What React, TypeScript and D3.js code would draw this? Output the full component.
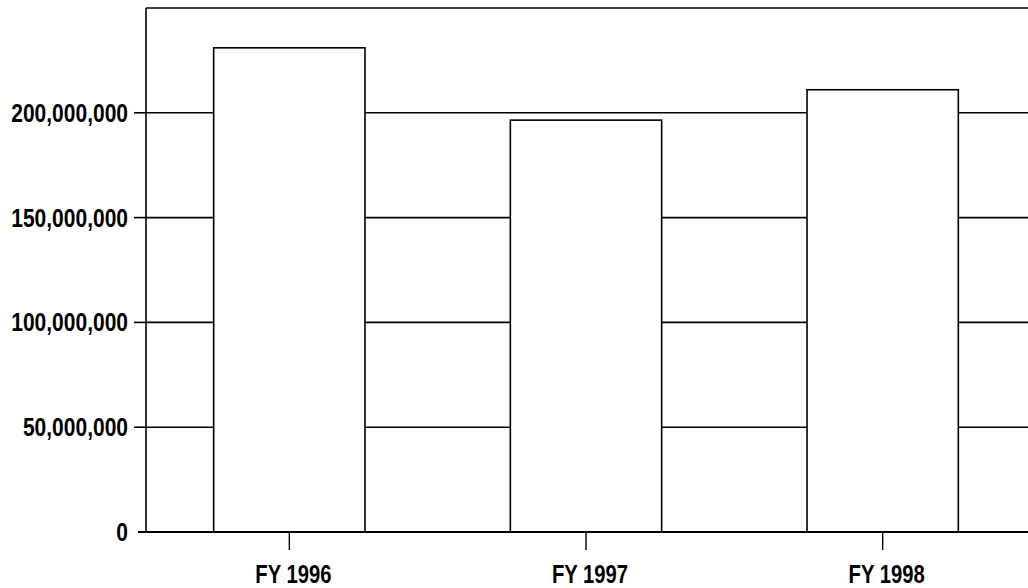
import React from "react";
import * as d3 from "d3";

const categories = ["FY 1996", "FY 1997", "FY 1998"];
const values = [231000000, 196500000, 211000000];
const yTicks = [0, 50000000, 100000000, 150000000, 200000000];
const yMax = 250000000;

const W = 1028;
const H = 588;
const left = 146;
const top = 8;
const bottom = 532;

export default function App() {
  const x = d3.scaleBand<string>().domain(categories).range([141, 1031]).paddingInner(0.49).paddingOuter(0.245);
  const y = d3.scaleLinear().domain([0, yMax]).range([bottom, top]);
  const fmt = d3.format(",");
  const font = "'Liberation Sans', Arial, sans-serif";
  return (
    <svg width={W} height={H} style={{ position: "absolute", left: 0, top: 0, background: "#fff" }}>
      <rect x={0} y={0} width={W} height={H} fill="#fff" />
      {/* gridlines */}
      {yTicks.filter((t) => t > 0).map((t) => (
        <line key={t} x1={left} x2={W} y1={y(t)} y2={y(t)} stroke="#000" strokeWidth={1.6} />
      ))}
      {/* top border */}
      <line x1={left} x2={W} y1={y(yMax)} y2={y(yMax)} stroke="#000" strokeWidth={1.6} />
      {/* bars */}
      {categories.map((c, i) => (
        <rect
          key={c}
          x={x(c)}
          y={y(values[i])}
          width={x.bandwidth()}
          height={y(0) - y(values[i])}
          fill="#fff"
          stroke="#000"
          strokeWidth={1.6}
        />
      ))}
      {/* y axis */}
      <line x1={left} x2={left} y1={top} y2={bottom} stroke="#000" strokeWidth={1.6} />
      {yTicks.map((t) => (
        <g key={t}>
          <line x1={t === 0 ? 138 : 134} x2={left} y1={y(t)} y2={y(t)} stroke="#000" strokeWidth={1.6} />
          <text
            transform={`translate(128,${y(t)}) scale(0.84,1)`}
            dy="0.36em"
            textAnchor="end"
            fontFamily={font}
            fontWeight="bold"
            fontSize={25}
            fill="#000"
          >
            {fmt(t)}
          </text>
        </g>
      ))}
      {/* x axis */}
      <line x1={138} x2={W} y1={bottom} y2={bottom} stroke="#000" strokeWidth={1.8} />
      {categories.map((c) => {
        const cx = (x(c) as number) + x.bandwidth() / 2;
        return (
          <g key={c}>
            <line x1={cx} x2={cx} y1={bottom} y2={550} stroke="#000" strokeWidth={1.4} />
            <text
              transform={`translate(${cx + 4},583) scale(0.81,1)`}
              textAnchor="middle"
              fontFamily={font}
              fontWeight="bold"
              fontSize={25}
              fill="#000"
            >
              {c}
            </text>
          </g>
        );
      })}
    </svg>
  );
}
